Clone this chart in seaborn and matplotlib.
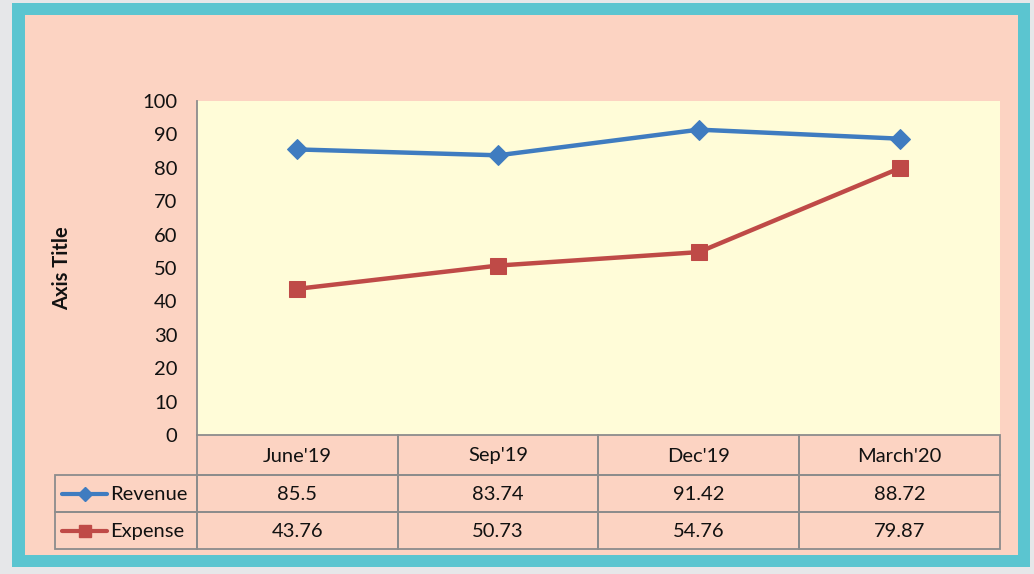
import matplotlib
matplotlib.use('Agg')
import matplotlib.pyplot as plt
from matplotlib.patches import Rectangle
from matplotlib.lines import Line2D
import pandas as pd
import seaborn as sns

# 데이터
categories = ["June'19", "Sep'19", "Dec'19", "March'20"]
revenue = [85.5, 83.74, 91.42, 88.72]
expense = [43.76, 50.73, 54.76, 79.87]
y_ticks = list(range(0, 101, 10))

W, H = 1034, 574
FS = 14.5
sns.set_style('white')
plt.rcParams['font.family'] = ['Lato', 'DejaVu Sans']

BG_OUT = '#E6E7E9'
TEAL = '#5BC5D0'
SALMON = '#FCD3C2'
PLOT_BG = '#FFFCD8'
GRID = '#8C8C8C'
BLUE = '#3F7CC0'
RED = '#BF4A47'


def fx(x):
    return x / W


def fy(y):
    return 1 - y / H


def frect(x0, y0, x1, y1, **kw):
    return Rectangle((fx(x0), fy(y1)), fx(x1) - fx(x0), fy(y0) - fy(y1),
                     transform=fig.transFigure, **kw)


fig = plt.figure(figsize=(W / 100, H / 100), dpi=100)
fig.patch.set_facecolor(BG_OUT)
fig.patches.append(frect(12, 3, 1030, 567, facecolor=TEAL, edgecolor='none', zorder=-3))
fig.patches.append(frect(25, 15, 1018, 555, facecolor=SALMON, edgecolor='none', zorder=-2))

# 플롯 영역
ax = fig.add_axes([fx(197), fy(435), fx(1000) - fx(197), fy(101) - fy(435)])
ax.set_zorder(1)
ax.set_facecolor(PLOT_BG)

df = pd.DataFrame({'x': range(len(categories)), 'Revenue': revenue, 'Expense': expense})
sns.lineplot(data=df, x='x', y='Revenue', ax=ax, color=BLUE, linewidth=3.2,
             marker='D', markersize=10, markeredgecolor=BLUE, sort=False)
sns.lineplot(data=df, x='x', y='Expense', ax=ax, color=RED, linewidth=3.2,
             marker='s', markersize=12, markeredgecolor=RED, sort=False)

ax.set_xlim(-0.5, len(categories) - 0.5)
ax.set_ylim(0, 100)
ax.set_yticks(y_ticks)
ax.set_yticklabels([str(t) for t in y_ticks], fontsize=FS, color='#111111')
ax.tick_params(axis='y', length=0, pad=14)
ax.set_xticks([])
ax.set_xlabel('')
ax.set_ylabel('')
for s in ['top', 'right', 'bottom']:
    ax.spines[s].set_visible(False)
ax.spines['left'].set_color(GRID)
ax.spines['left'].set_linewidth(1.3)

fig.text(fx(62), fy(268), 'Axis Title', rotation=90, ha='center', va='center',
         fontsize=FS, fontweight='bold', color='#111111')

# 데이터 테이블
col_edges = [197, 398, 598, 799, 1000]
row_edges = [435, 475, 512, 549]
for i, cat in enumerate(categories):
    x0, x1 = col_edges[i], col_edges[i + 1]
    fig.patches.append(frect(x0, row_edges[0], x1, row_edges[1], facecolor='none',
                             edgecolor=GRID, linewidth=1.3, zorder=3))
    fig.text(fx((x0 + x1) / 2), fy((row_edges[0] + row_edges[1]) / 2 + 1), cat,
             ha='center', va='center', fontsize=FS, color='#111111')

series = [('Revenue', revenue, BLUE, 'D', 7), ('Expense', expense, RED, 's', 9)]
for r, (name, vals, col, mk, ms) in enumerate(series):
    y0, y1 = row_edges[r + 1], row_edges[r + 2]
    yc = (y0 + y1) / 2
    fig.patches.append(frect(55, y0, 197, y1, facecolor='none',
                             edgecolor=GRID, linewidth=1.3, zorder=3))
    fig.lines.append(Line2D([fx(62), fx(107)], [fy(yc), fy(yc)], transform=fig.transFigure,
                            color=col, linewidth=3, marker=None))
    fig.lines.append(Line2D([fx(85)], [fy(yc)], transform=fig.transFigure,
                            color=col, marker=mk, markersize=ms, linestyle='none'))
    fig.text(fx(110), fy(yc + 1), name, ha='left', va='center', fontsize=FS, color='#111111')
    for i, v in enumerate(vals):
        x0, x1 = col_edges[i], col_edges[i + 1]
        fig.patches.append(frect(x0, y0, x1, y1, facecolor='none',
                                 edgecolor=GRID, linewidth=1.3, zorder=3))
        fig.text(fx((x0 + x1) / 2), fy(yc + 1), f'{v:g}', ha='center', va='center',
                 fontsize=FS, color='#111111')

fig.savefig('out.png', dpi=100, facecolor=fig.get_facecolor())
